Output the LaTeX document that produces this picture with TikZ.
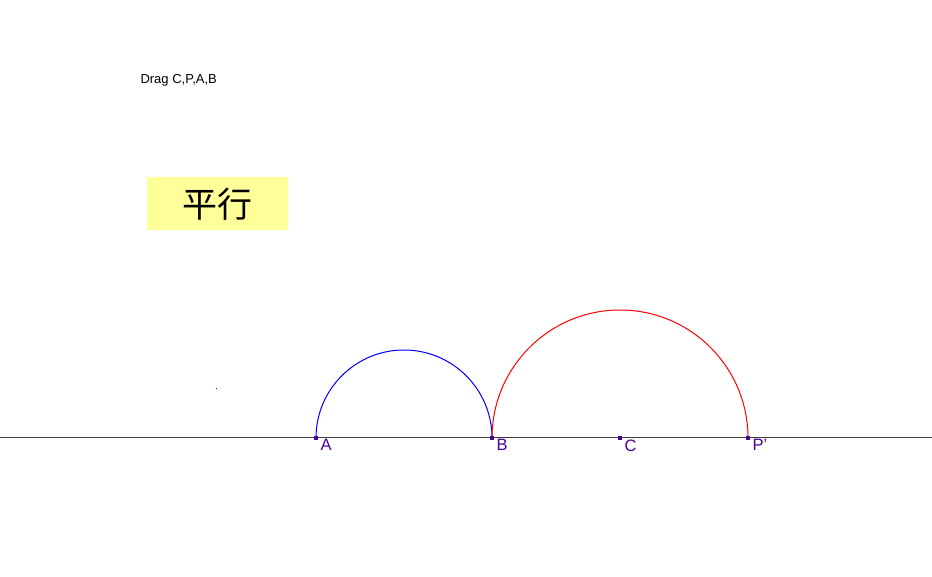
\documentclass[tikz,border=0pt]{standalone}
\usepackage{fontspec}
\setmainfont{Liberation Sans}
\newfontfamily\cjk{Noto Sans CJK SC}
\usepackage{xcolor}
\usetikzlibrary{calc}
\definecolor{ptpurple}{HTML}{4B0096}
\definecolor{linegray}{HTML}{404040}
\definecolor{boxyellow}{HTML}{FFFF99}

\begin{document}
\begin{tikzpicture}[x=1pt,y=1pt,line width=1pt]
    \useasboundingbox (0,0) rectangle (932,576);
    % base line
    \coordinate (west) at (0,138);
    \coordinate (east) at (932,138);
    \draw[linegray] (west) -- (east);
    % points on the line
    \foreach \name/\x in {A/316,B/492,C/620,P/748}
    \coordinate (\name) at (\x,138);
    % semicircles
    \draw[blue] (A) arc[start angle=180,end angle=0,radius=88];
    \draw[red] (B) arc[start angle=180,end angle=0,radius=128];
    \foreach \name in {A,B,C,P}
    \fill[ptpurple] ($(\name)+(-2,-2)$) rectangle ($(\name)+(2,2)$);
    \foreach \name/\label in {A/A,B/B,C/C,P/P'}
    \node[anchor=north west,inner sep=0pt,text=ptpurple,font=\fontsize{16.5}{16.5}\selectfont] (lbl\name) at ($(\name)+(4,-1)$) {\label};
    % loose dot
    \fill[ptpurple] (215.5,186.5) rectangle (216.5,187.5);
    % captions
    \node[anchor=west,inner sep=0pt,font=\fontsize{13}{13}\selectfont] (drag) at (140,496) {Drag C,P,A,B};
    \node[fill=boxyellow,minimum width=141pt,minimum height=53pt,inner sep=0pt,anchor=south west] (title) at (146,345) {};
    \node[font=\cjk\fontsize{35}{35}\selectfont] (titletext) at (title.center) {平行};
  \end{tikzpicture}
\end{document}
